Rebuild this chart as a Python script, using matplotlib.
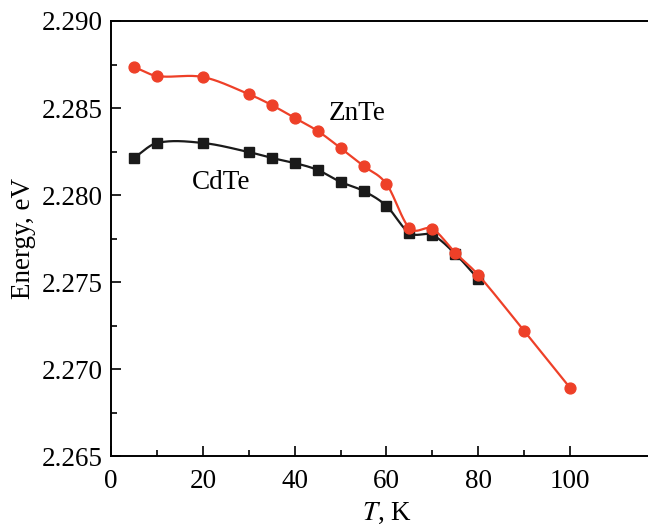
import matplotlib.pyplot as plt
import numpy as np

# Data
T_znte = [5, 10, 20, 30, 35, 40, 45, 50, 55, 60, 65, 70, 75, 80, 90, 100]
E_znte = [2.28736, 2.28684, 2.28678, 2.28580, 2.28517, 2.28443, 2.28368, 2.28270,
          2.28167, 2.28063, 2.27810, 2.27805, 2.27667, 2.27540, 2.27218, 2.26891]

T_cdte = [5, 10, 20, 30, 35, 40, 45, 50, 55, 60, 65, 70, 75, 80]
E_cdte = [2.28213, 2.28299, 2.28299, 2.28247, 2.28213, 2.28184, 2.28144, 2.28075,
          2.28023, 2.27937, 2.27782, 2.27770, 2.27661, 2.27517]


def smooth_curve(x, y, n=40):
    # Hermite curve through the points, tangents from neighbouring points
    x = np.asarray(x, float)
    y = np.asarray(y, float)
    d = np.empty_like(y)
    d[1:-1] = (y[2:] - y[:-2]) / (x[2:] - x[:-2])
    d[0] = (y[1] - y[0]) / (x[1] - x[0])
    d[-1] = (y[-1] - y[-2]) / (x[-1] - x[-2])
    xs, ys = [], []
    for i in range(len(x) - 1):
        h = x[i + 1] - x[i]
        t = np.linspace(0, 1, n)
        h00 = 2 * t**3 - 3 * t**2 + 1
        h10 = t**3 - 2 * t**2 + t
        h01 = -2 * t**3 + 3 * t**2
        h11 = t**3 - t**2
        xs.append(x[i] + t * h)
        ys.append(h00 * y[i] + h10 * h * d[i] + h01 * y[i + 1] + h11 * h * d[i + 1])
    return np.concatenate(xs), np.concatenate(ys)


plt.rcParams['font.family'] = ['Liberation Serif', 'DejaVu Serif']
plt.rcParams['mathtext.fontset'] = 'stix'

red = '#ee4028'
fig = plt.figure(figsize=(6.48, 5.25), dpi=100)
ax = fig.add_axes([0.1713, 0.1314, 0.8503, 0.8286])

xs, ys = smooth_curve(T_cdte, E_cdte)
ax.plot(xs, ys, color='#1a1a1a', lw=1.6)
ax.plot(T_cdte, E_cdte, 's', color='#1a1a1a', ms=6.5)

xs, ys = smooth_curve(T_znte, E_znte)
ax.plot(xs, ys, color=red, lw=1.6)
ax.plot(T_znte, E_znte, 'o', color=red, ms=7.8)

ax.text(53.5, 2.2847, 'ZnTe', fontsize=19.5, ha='center', va='center')
ax.text(24, 2.2807, 'CdTe', fontsize=19.5, ha='center', va='center')

ax.set_xlim(0, 120)
ax.set_ylim(2.265, 2.290)
ax.set_xticks([0, 20, 40, 60, 80, 100])
ax.set_xticks([10, 30, 50, 70, 90], minor=True)
ax.set_yticks([2.265, 2.270, 2.275, 2.280, 2.285, 2.290])
ax.set_yticklabels(['2.265', '2.270', '2.275', '2.280', '2.285', '2.290'])
ax.set_yticks(np.arange(2.2675, 2.290, 0.005), minor=True)
ax.tick_params(which='both', direction='in', labelsize=19.5, width=1.2)
ax.tick_params(which='major', length=7)
ax.tick_params(which='minor', length=4)
ax.tick_params(axis='x', pad=9)
ax.tick_params(axis='y', pad=6)
for s in ax.spines.values():
    s.set_linewidth(1.4)

ax.set_xlabel('$T$, K', fontsize=19.5, labelpad=5)
ax.set_ylabel('Energy, eV', fontsize=19.5, labelpad=4)

fig.savefig('out.png', dpi=100)
